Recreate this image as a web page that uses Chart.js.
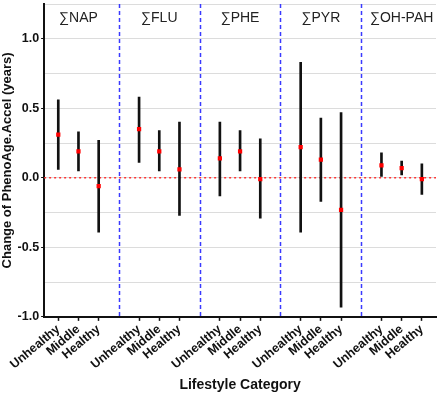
<!DOCTYPE html>
<html>
<head>
<meta charset="utf-8">
<script src="https://cdn.jsdelivr.net/npm/chart.js@4/dist/chart.umd.min.js"></script>
<style>
  html, body { margin: 0; padding: 0; background: #fff; }
  #wrap { width: 440px; height: 394px; }
</style>
</head>
<body>
<div id="wrap"><canvas id="chart"></canvas></div>
<script>
// groups and lifestyle levels
const groups = ['∑NAP', '∑FLU', '∑PHE', '∑PYR', '∑OH-PAH'];
const levels = ['Unhealthy', 'Middle', 'Healthy'];

// estimates and 95% CI, in order group x level
const estimate = [0.31, 0.19, -0.06, 0.35, 0.19, 0.06, 0.14, 0.19, -0.01, 0.22, 0.13, -0.23, 0.09, 0.07, -0.01];
const lower = [0.06, 0.05, -0.39, 0.11, 0.05, -0.27, -0.13, 0.05, -0.29, -0.39, -0.17, -0.93, 0.01, 0.02, -0.12];
const upper = [0.56, 0.33, 0.27, 0.58, 0.34, 0.40, 0.40, 0.34, 0.28, 0.83, 0.43, 0.47, 0.18, 0.12, 0.10];

const yTicks = [-1.0, -0.5, 0.0, 0.5, 1.0];

const FONT = "'Liberation Sans', Arial, sans-serif";

// x position of each point: one empty slot between groups
const posOf = (i) => Math.floor(i / levels.length) * (levels.length + 1) + (i % levels.length);
const xPositions = estimate.map((_, i) => posOf(i));
const labelAt = {};
xPositions.forEach((x, i) => { labelAt[x] = levels[i % levels.length]; });
const dividers = groups.slice(1).map((_, g) => (g + 1) * (levels.length + 1) - 1);
const xMin = -0.7;
const xMax = xPositions[xPositions.length - 1] + 0.7;

const isMajor = (v) => yTicks.some((t) => Math.abs(t - v) < 1e-6);

// blue dashed separators between groups and group names on top
const groupDecor = {
  id: 'groupDecor',
  beforeDatasetsDraw(chart) {
    const { ctx, chartArea, scales } = chart;
    ctx.save();
    ctx.strokeStyle = '#3a3aff';
    ctx.lineWidth = 1.5;
    ctx.setLineDash([4, 3]);
    dividers.forEach((d) => {
      const x = Math.round(scales.x.getPixelForValue(d)) + 0.5;
      ctx.beginPath();
      ctx.moveTo(x, chartArea.top);
      ctx.lineTo(x, chartArea.bottom);
      ctx.stroke();
    });
    ctx.restore();
  },
  afterDatasetsDraw(chart) {
    const { ctx, chartArea, scales } = chart;
    ctx.save();
    ctx.font = '14px ' + FONT;
    ctx.fillStyle = '#222';
    ctx.textAlign = 'center';
    ctx.textBaseline = 'middle';
    groups.forEach((name, g) => {
      const x = scales.x.getPixelForValue(g * (levels.length + 1) + 1);
      ctx.fillText(name, x, chartArea.top + 14);
    });
    ctx.restore();
  },
};

new Chart(document.getElementById('chart'), {
  type: 'bar',
  data: {
    datasets: [
      {
        type: 'scatter',
        data: xPositions.map((x, i) => ({ x, y: estimate[i] })),
        pointStyle: 'rect',
        pointRadius: 3,
        backgroundColor: '#ff0000',
        borderColor: '#ff0000',
        borderWidth: 0,
        order: 0,
      },
      {
        type: 'bar',
        data: xPositions.map((x, i) => ({ x, y: [lower[i], upper[i]] })),
        backgroundColor: '#111',
        barThickness: 2,
        order: 1,
      },
      {
        type: 'line',
        data: [{ x: xMin, y: 0 }, { x: xMax, y: 0 }],
        borderColor: '#ff3333',
        borderWidth: 1.5,
        borderDash: [2, 3],
        pointRadius: 0,
        order: 2,
      },
    ],
  },
  options: {
    responsive: true,
    maintainAspectRatio: false,
    animation: false,
    layout: { padding: { top: 0, right: 1, left: 0, bottom: 0 } },
    plugins: {
      legend: { display: false },
      tooltip: { enabled: false },
    },
    scales: {
      x: {
        type: 'linear',
        min: xMin,
        max: xMax,
        offset: false,
        afterBuildTicks: (axis) => { axis.ticks = xPositions.map((v) => ({ value: v })); },
        ticks: {
          autoSkip: false,
          minRotation: 40,
          maxRotation: 40,
          color: '#111',
          padding: 1,
          font: { family: FONT, size: 12.5, weight: 'bold' },
          callback: (v) => labelAt[v] || '',
        },
        grid: { offset: false, drawOnChartArea: false, tickLength: 4, tickColor: '#111', tickWidth: 1.5 },
        border: { color: '#111', width: 2 },
        title: {
          display: true,
          text: 'Lifestyle Category',
          color: '#111',
          font: { family: FONT, size: 14, weight: 'bold' },
          padding: { top: 4, bottom: 0 },
        },
      },
      y: {
        min: -1,
        max: 1.25,
        ticks: {
          stepSize: 0.25,
          color: '#111',
          padding: 2,
          font: (c) => (c.tick && isMajor(c.tick.value)
            ? { family: FONT, size: 12.5, weight: 'bold' }
            : { family: FONT, size: 1, lineHeight: 1 }),
          callback: (v) => (isMajor(v) ? v.toFixed(1) : ''),
        },
        grid: {
          color: '#dcdcdc',
          lineWidth: 1,
          tickLength: 3,
          tickColor: (c) => (isMajor(c.tick.value) ? '#111' : 'rgba(0,0,0,0)'),
        },
        border: { color: '#111', width: 2 },
        title: {
          display: true,
          text: 'Change of PhenoAge.Accel (years)',
          color: '#111',
          font: { family: FONT, size: 13, weight: 'bold' },
          padding: { top: 0, bottom: 0 },
        },
      },
    },
  },
  plugins: [groupDecor],
});
</script>
</body>
</html>
